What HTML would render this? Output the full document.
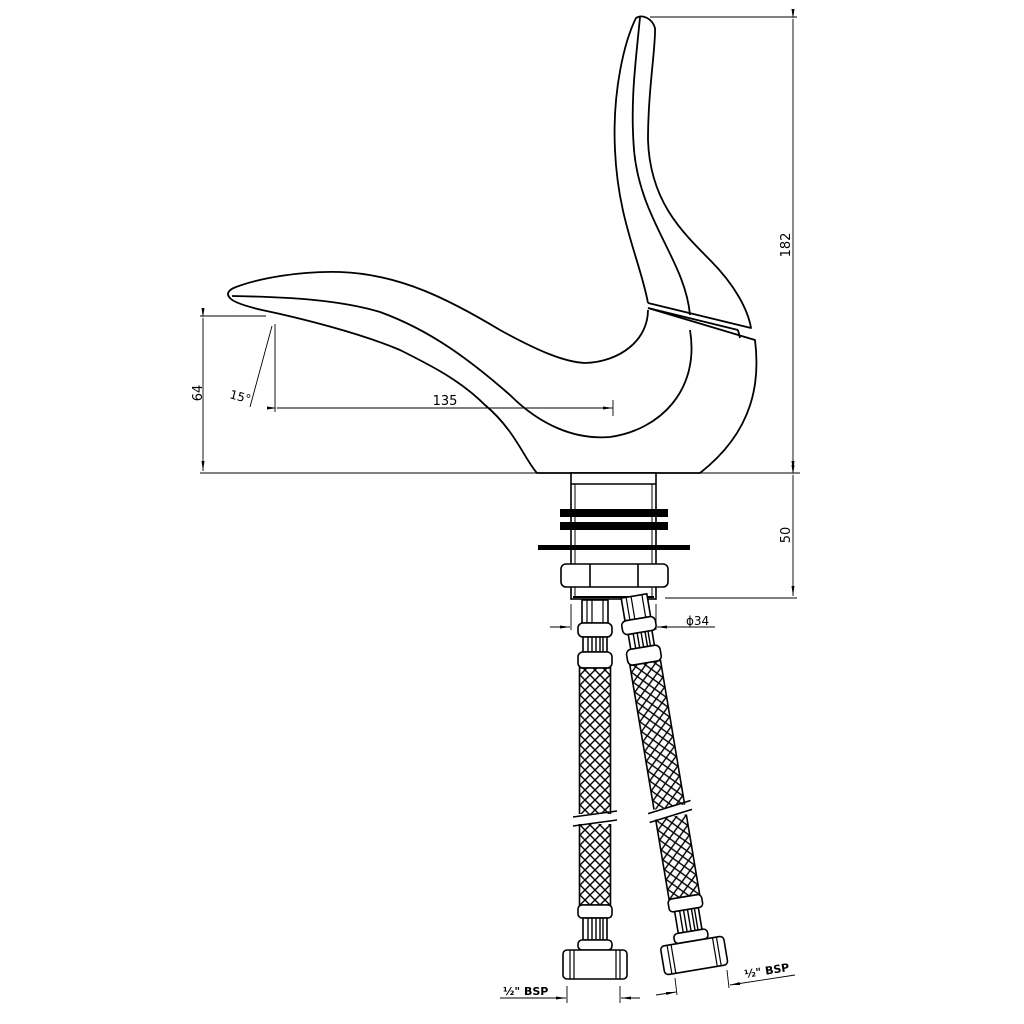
<!DOCTYPE html>
<html><head><meta charset="utf-8"><style>html,body{margin:0;padding:0;background:#fff}svg{display:block}text{font-family:"DejaVu Sans","Liberation Sans",sans-serif;fill:#000}</style></head>
<body>
<svg width="1024" height="1024" viewBox="0 0 1024 1024" xmlns="http://www.w3.org/2000/svg">
<defs>
<pattern id="mesh" width="10" height="10" patternUnits="userSpaceOnUse">
<rect width="10" height="10" fill="#fff"/>
<path d="M0 0L10 10M10 0L0 10" stroke="#000" stroke-width="1.4"/>
</pattern>
<marker id="ar" markerWidth="10" markerHeight="6" refX="10" refY="3" orient="auto" markerUnits="userSpaceOnUse"><path d="M0 1.5L10 3L0 4.5z" fill="#000"/></marker>
<g id="hose" stroke="#000" stroke-width="1.6" fill="#fff">
<rect x="-13" y="0" width="26" height="23"/>
<path d="M-8 0V23M-3 0V23M8 0V23" stroke-width="1.2"/>
<rect x="-17" y="23" width="34" height="14" rx="5"/>
<rect x="-12" y="37" width="24" height="15"/>
<path d="M-7 37V52M-3 37V52M1 37V52M5 37V52M8 37V52" stroke-width="1.4"/>
<rect x="-17" y="52" width="34" height="16" rx="5"/>
<rect x="-15.5" y="68" width="31" height="237" fill="url(#mesh)"/>
<rect x="-20" y="214" width="40" height="10" fill="#fff" stroke="none"/>
<path d="M-22 217L22 211M-22 226L22 220" stroke-width="1.6"/>
<rect x="-17" y="305" width="34" height="13" rx="4"/>
<rect x="-12" y="318" width="24" height="22"/>
<path d="M-7 318V340M-3 318V340M1 318V340M5 318V340M8 318V340" stroke-width="1.4"/>
<rect x="-17" y="340" width="34" height="10" rx="4"/>
<rect x="-32" y="350" width="64" height="29" rx="4"/>
<path d="M-21 350V379M21 350V379M-25 350V379M25 350V379" stroke-width="1.2"/>
</g>
</defs>

<g fill="none" stroke="#000" stroke-width="1.8" stroke-linejoin="round">
<path d="M648 303 C 640 260, 618 220, 615 150 C 612 90, 625 40, 636 18 C 642 14, 652 18, 655 28 C 656 45, 648 90, 648 140 C 650 200, 680 230, 710 260 C 735 285, 748 310, 751 328 L 648 303"/>
<path d="M640 17 C 636 60, 630 100, 634 150 C 640 220, 685 260, 690 315"/>
<path d="M648 308 L 738 330"/>
<path d="M738 330 L740 338"/>
<path d="M648 308 L 755 340 C 760 380, 755 430, 700 473 L 537 473 C 525 460, 515 430, 485 405 C 460 380, 430 365, 400 350 C 360 333, 300 318, 262 310 C 245 306, 233 302, 230 298 C 226 294, 228 290, 236 287 C 260 278, 300 271, 340 272 C 400 274, 450 300, 500 330 C 540 352, 565 362, 585 363 C 620 362, 648 340, 648 310"/>
<path d="M232 296 C 290 297, 340 300, 380 312 C 430 330, 470 360, 510 395 C 540 425, 575 440, 610 437 C 660 430, 700 390, 690 330"/>
</g>

<g stroke="#000" stroke-width="0.9" fill="none">
<line x1="650" y1="17" x2="797" y2="17"/>
<line x1="793" y1="19" x2="793" y2="471" marker-start="url(#ar)" marker-end="url(#ar)"/>
<line x1="200" y1="473" x2="800" y2="473"/>
<line x1="200" y1="316" x2="266" y2="316"/>
<line x1="203" y1="318" x2="203" y2="471" marker-start="url(#ar)" marker-end="url(#ar)"/>
<line x1="275" y1="324" x2="275" y2="412"/>
<line x1="272" y1="326" x2="250" y2="407"/>
<line x1="277" y1="408" x2="613" y2="408" marker-start="url(#ar)" marker-end="url(#ar)"/>
<line x1="613" y1="400" x2="613" y2="416"/>
<line x1="665" y1="598" x2="797" y2="598"/>
<line x1="793" y1="475" x2="793" y2="596" marker-start="url(#ar)" marker-end="url(#ar)"/>
<line x1="571" y1="604" x2="571" y2="630"/>
<line x1="656" y1="604" x2="656" y2="630"/>
<line x1="550" y1="627" x2="570" y2="627" marker-end="url(#ar)"/>
<line x1="715" y1="627" x2="657" y2="627" marker-end="url(#ar)"/>
<line x1="567" y1="986" x2="567" y2="1003"/>
<line x1="620" y1="986" x2="620" y2="1003"/>
<line x1="500" y1="998" x2="566" y2="998" marker-end="url(#ar)"/>
<line x1="640" y1="998" x2="621" y2="998" marker-end="url(#ar)"/>
<line x1="675" y1="978" x2="677" y2="995"/>
<line x1="727" y1="970" x2="729" y2="988"/>
<line x1="656" y1="995" x2="676" y2="992" marker-end="url(#ar)"/>
<line x1="795" y1="975" x2="730" y2="985" marker-end="url(#ar)"/>
</g>
<text transform="translate(790,245) rotate(-90)" font-size="13" text-anchor="middle">182</text>
<text transform="translate(202,393) rotate(-90)" font-size="13" text-anchor="middle">64</text>
<text transform="translate(790,535) rotate(-90)" font-size="13" text-anchor="middle">50</text>
<text x="445" y="405" font-size="13" text-anchor="middle">135</text>
<text transform="translate(229,398) rotate(15)" font-size="12">15°</text>
<text x="686" y="625" font-size="12">ϕ34</text>
<text x="503" y="995" font-size="11" font-weight="bold">½" BSP</text>
<text transform="translate(745,978) rotate(-9)" font-size="11" font-weight="bold">½" BSP</text>

<g stroke="#000" stroke-width="1.6" fill="#fff">
<rect x="571" y="473" width="85" height="126"/>
<line x1="571" y1="484" x2="656" y2="484"/>
<line x1="575" y1="484" x2="575" y2="598" stroke-width="1"/>
<line x1="652" y1="484" x2="652" y2="598" stroke-width="1"/>
<rect x="561" y="564" width="107" height="23" rx="5"/>
<line x1="590" y1="564" x2="590" y2="587"/>
<line x1="638" y1="564" x2="638" y2="587"/>
<line x1="573" y1="597" x2="654" y2="597" stroke-width="2"/>
</g>
<rect x="560" y="509" width="108" height="8" fill="#000"/>
<rect x="560" y="522" width="108" height="8" fill="#000"/>
<rect x="538" y="545" width="152" height="5" fill="#000"/>

<use href="#hose" transform="translate(595,600)"/>
<use href="#hose" transform="translate(634,596) rotate(-9.5)"/>
</svg>
</body></html>
